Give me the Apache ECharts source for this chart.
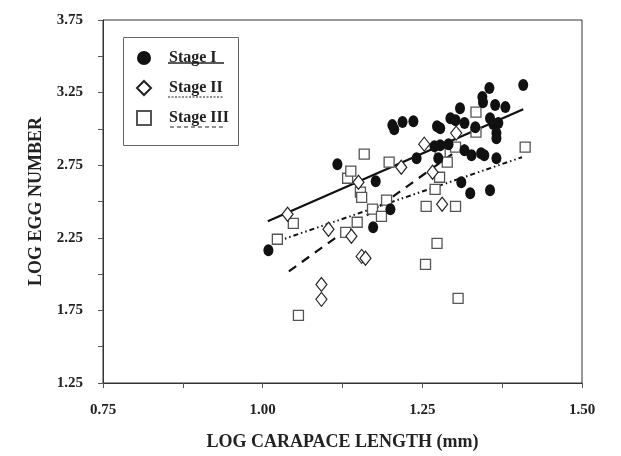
<!DOCTYPE html>
<html>
<head>
<meta charset="utf-8">
<script src="https://cdn.jsdelivr.net/npm/echarts@6/dist/echarts.min.js"></script>
<style>
html,body{margin:0;padding:0;background:#fff;}
#chart{width:621px;height:456px;}
</style>
</head>
<body>
<div id="chart"></div>
<script>
// ---- Data ----
const stageILabel = 'Stage I';
const stageIILabel = 'Stage II';
const stageIIILabel = 'Stage III';

const stageI = [
  [1.009,2.164],[1.117,2.757],[1.173,2.322],[1.200,2.447],[1.177,2.640],
  [1.203,3.026],[1.206,2.998],[1.219,3.047],[1.236,3.053],[1.241,2.798],
  [1.269,2.881],[1.278,2.888],[1.273,3.019],[1.278,3.005],[1.275,2.798],
  [1.291,2.895],[1.294,3.074],[1.302,3.060],[1.309,3.143],[1.316,3.040],
  [1.316,2.853],[1.327,2.819],[1.333,3.012],[1.342,2.833],[1.347,2.819],
  [1.344,3.219],[1.345,3.184],[1.355,3.281],[1.356,3.074],[1.361,3.033],
  [1.369,3.040],[1.364,3.164],[1.366,2.971],[1.366,2.936],[1.366,2.798],
  [1.380,3.150],[1.408,3.302],[1.311,2.633],[1.325,2.557],[1.356,2.578]
];
const stageII = [
  [1.039,2.412],[1.092,1.929],[1.092,1.826],[1.103,2.309],[1.139,2.260],
  [1.150,2.633],[1.155,2.122],[1.161,2.109],[1.217,2.736],[1.253,2.895],
  [1.266,2.702],[1.281,2.481],[1.303,2.971]
];
const stageIII = [
  [1.023,2.240],[1.048,2.350],[1.056,1.716],[1.130,2.288],[1.133,2.660],
  [1.138,2.709],[1.148,2.357],[1.153,2.564],[1.155,2.529],[1.159,2.826],
  [1.172,2.447],[1.186,2.398],[1.194,2.509],[1.198,2.771],[1.256,2.467],
  [1.255,2.067],[1.270,2.584],[1.277,2.667],[1.278,2.833],[1.289,2.771],
  [1.302,2.874],[1.302,2.467],[1.273,2.212],[1.306,1.833],[1.334,3.116],
  [1.334,2.978],[1.411,2.874]
];
// regression line end points
const fitI = [[1.008,2.364],[1.408,3.136]];
const fitII = [[1.023,2.226],[1.406,2.805]];
const fitIII = [[1.041,2.019],[1.325,2.916]];

const xTicks = [0.75, 1.00, 1.25, 1.50];
const yTicks = [1.25, 1.75, 2.25, 2.75, 3.25, 3.75];

const FONT = '"Liberation Serif","Times New Roman",serif';
const chart = echarts.init(document.getElementById('chart'), null, {renderer:'canvas'});

const near = (v, arr) => arr.some(t => Math.abs(t - v) < 1e-6);

chart.setOption({
  animation: false,
  backgroundColor: '#fff',
  grid: {left:103, top:20, right:39, bottom:73, show:true, borderColor:'#333', borderWidth:1, backgroundColor:'transparent'},
  xAxis: {
    type:'value', min:0.75, max:1.5, interval:0.125,
    name:'LOG CARAPACE LENGTH (mm)', nameLocation:'middle', nameGap:50,
    nameTextStyle:{fontFamily:FONT, fontWeight:'bold', fontSize:18, color:'#222'},
    axisLine:{show:true, onZero:false, lineStyle:{color:'#333', width:1}},
    axisTick:{show:true, inside:false, length:5, lineStyle:{color:'#555'}},
    splitLine:{show:false},
    axisLabel:{margin:20, fontFamily:FONT, fontWeight:'bold', fontSize:15, color:'#222',
      formatter: v => near(v, xTicks) ? v.toFixed(2) : ''}
  },
  yAxis: {
    type:'value', min:1.25, max:3.75, interval:0.25,
    name:'LOG EGG NUMBER', nameLocation:'middle', nameGap:58, nameRotate:90,
    nameTextStyle:{fontFamily:FONT, fontWeight:'bold', fontSize:18, color:'#222'},
    axisLine:{show:true, onZero:false, lineStyle:{color:'#333', width:1}},
    axisTick:{show:true, inside:false, length:5, lineStyle:{color:'#555'}},
    splitLine:{show:false},
    axisLabel:{margin:20, fontFamily:FONT, fontWeight:'bold', fontSize:15, color:'#222',
      formatter: v => near(v, yTicks) ? v.toFixed(2) : ''}
  },
  legend: {
    orient:'vertical', left:131, top:45, itemGap:14, itemWidth:14, itemHeight:14,
    data:[stageILabel, stageIILabel, stageIIILabel],
    textStyle:{fontFamily:FONT, fontWeight:'bold', fontSize:16, color:'#222', padding:[0,0,0,13]},
    selectedMode:false
  },
  graphic: [
    {type:'rect', left:121, top:35, shape:{width:115, height:108}, style:{fill:'none', stroke:'#666', lineWidth:1}, z:0},
    {type:'line', shape:{x1:168, y1:63, x2:224, y2:63}, style:{stroke:'#222', lineWidth:1.5}},
    {type:'line', shape:{x1:168, y1:97, x2:224, y2:97}, style:{stroke:'#222', lineWidth:1.2, lineDash:[2,1.5]}},
    {type:'line', shape:{x1:170, y1:127, x2:226, y2:127}, style:{stroke:'#222', lineWidth:1.2, lineDash:[4,3]}}
  ],
  series: [
    {name:'fitI', type:'line', data:fitI, symbol:'none', lineStyle:{color:'#111', width:2.2, type:'solid'}, silent:true, z:1},
    {name:'fitII', type:'line', data:fitII, symbol:'none', lineStyle:{color:'#111', width:2, type:[5,3,1.5,3,1.5,3]}, silent:true, z:1},
    {name:'fitIII', type:'line', data:fitIII, symbol:'none', lineStyle:{color:'#111', width:2.2, type:[9,7]}, silent:true, z:1},
    {name:stageILabel, type:'scatter', data:stageI, symbol:'circle', symbolSize:[10,12],
      itemStyle:{color:'#111', borderColor:'#111', borderWidth:0, opacity:1}, z:3},
    {name:stageIILabel, type:'scatter', data:stageII, symbol:'diamond', symbolSize:[11,14],
      itemStyle:{color:'#fff', borderColor:'#222', borderWidth:1.2, opacity:1}, z:3},
    {name:stageIIILabel, type:'scatter', data:stageIII, symbol:'rect', symbolSize:[10,10],
      itemStyle:{color:'#fff', borderColor:'#555', borderWidth:1.3, opacity:1}, z:2}
  ]
});
</script>
</body>
</html>
